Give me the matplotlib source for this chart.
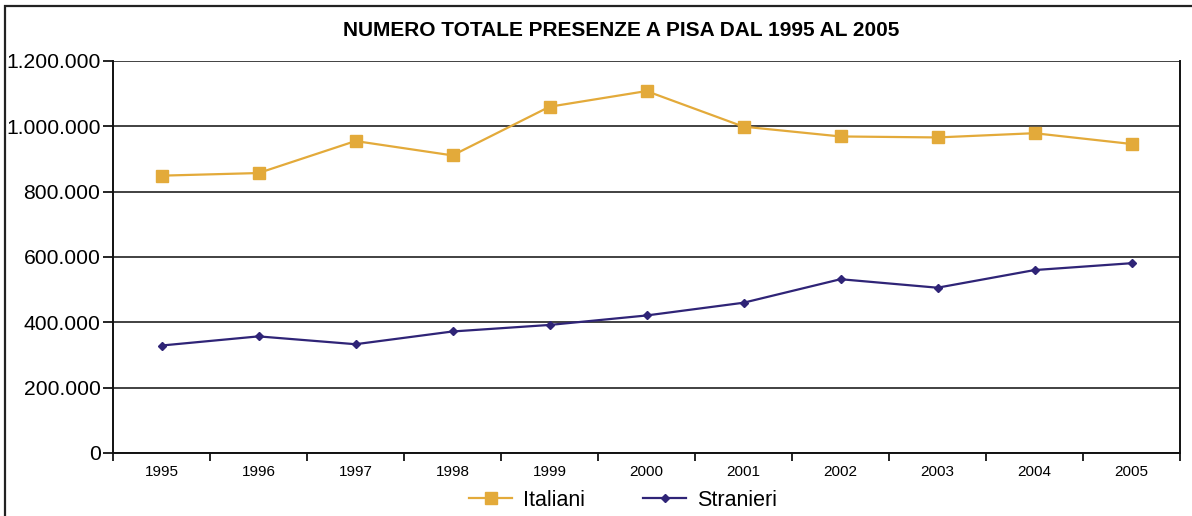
import matplotlib.pyplot as plt
import numpy as np
from matplotlib.patches import Rectangle
from matplotlib.lines import Line2D
from matplotlib.ticker import FuncFormatter

plt.rcParams['font.family'] = ['Liberation Sans', 'DejaVu Sans']

anni = ['1995', '1996', '1997', '1998', '1999', '2000',
        '2001', '2002', '2003', '2004', '2005']
italiani = [849000, 857000, 955000, 911000, 1060000, 1108000,
            999000, 969000, 966000, 979000, 946000]
stranieri = [329000, 357000, 333000, 372000, 392000, 421000,
             460000, 532000, 506000, 560000, 581000]

col_ita = '#E3AA3A'
col_str = '#2F2477'

fig = plt.figure(figsize=(11.92, 5.16), dpi=100)
ax = fig.add_axes([113 / 1192, 1 - 453 / 516, (1180 - 113) / 1192, (453 - 61) / 516])

x = np.arange(len(anni))
ax.plot(x, italiani, color=col_ita, lw=1.6, marker='s', ms=8.5, mec=col_ita, label='Italiani')
ax.plot(x, stranieri, color=col_str, lw=1.6, marker='D', ms=4.5, mec=col_str, label='Stranieri')

ax.set_xlim(-0.5, len(anni) - 0.5)
ax.set_ylim(0, 1200000)
ax.set_yticks(np.arange(0, 1200001, 200000))
ax.yaxis.set_major_formatter(FuncFormatter(lambda v, p: '{:,.0f}'.format(v).replace(',', '.')))
ax.tick_params(axis='y', labelsize=15.2, length=7, width=1.2, direction='out', pad=2)

# tick marks between the years, labels centred on the years
ax.set_xticks(np.arange(-0.5, len(anni), 1))
ax.set_xticklabels([])
ax.set_xticks(x, minor=True)
ax.set_xticklabels(anni, minor=True, fontsize=11)
ax.tick_params(axis='x', which='major', length=6, width=1.2, direction='out')
ax.tick_params(axis='x', which='minor', length=0, pad=9)

ax.grid(axis='y', color='#333333', lw=1.3)
ax.set_axisbelow(True)
for s in ['left', 'bottom', 'right']:
    ax.spines[s].set_linewidth(1.4)
    ax.spines[s].set_color('#111111')
ax.spines['top'].set_visible(False)

fig.text(621 / 1192, 1 - 30 / 516, 'NUMERO TOTALE PRESENZE A PISA DAL 1995 AL 2005',
         ha='center', va='center', fontsize=15, fontweight='bold')

handles = [Line2D([], [], color=col_ita, lw=1.6, marker='s', ms=8.5),
           Line2D([], [], color=col_str, lw=1.6, marker='D', ms=4.5)]
fig.legend(handles, ['Italiani', 'Stranieri'], loc='center', bbox_to_anchor=(623 / 1192, 1 - 500 / 516),
           ncol=2, frameon=False, fontsize=15.5, handlelength=2.0, handletextpad=0.5, columnspacing=2.7)

# outer frame, open on the right and bottom
fig.add_artist(Rectangle((5 / 1192, -0.1), 1.2, 1.1 - 6 / 516, transform=fig.transFigure,
                         fill=False, ec='#222222', lw=1.6))

fig.savefig('out.png', dpi=100)
